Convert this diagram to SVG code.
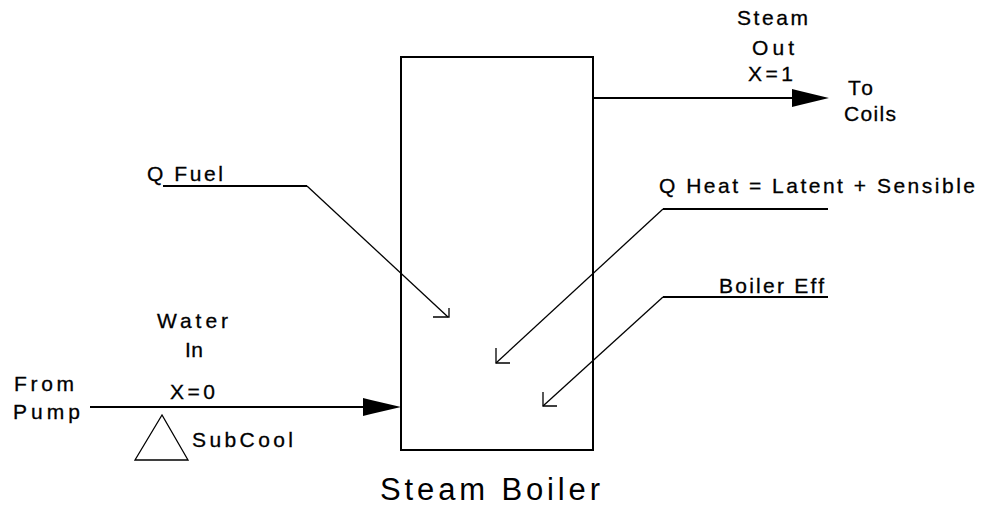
<svg xmlns="http://www.w3.org/2000/svg" width="981" height="508" viewBox="0 0 981 508">
<style>
  .lbl { font-family: "Liberation Sans", Arial, sans-serif; font-size: 21px; fill: #000; stroke: #000; stroke-width: 0.3; }
  .big { font-family: "Liberation Sans", Arial, sans-serif; font-size: 31px; fill: #000; }
  .main { stroke: #000; stroke-width: 2; fill: none; }
  .diag { stroke: #000; stroke-width: 1.3; fill: none; }
  .head { fill: #000; stroke: none; }
</style>
<rect x="0" y="0" width="981" height="508" fill="#fff"/>
<g id="boiler">
  <rect x="401" y="57" width="192" height="393" class="main"/>
  <text class="big" x="380" y="500" textLength="220" lengthAdjust="spacing">Steam Boiler</text>
</g>
<g id="connectors">
  <!-- Water in -->
  <line x1="90" y1="407" x2="366" y2="407" class="main"/>
  <polygon class="head" points="363,398 371,400 401,407 371,414 363,416"/>
  <!-- Steam out -->
  <line x1="593" y1="98" x2="795" y2="98" class="main"/>
  <polygon class="head" points="792,89 800,91 829,98 800,105 792,107"/>
  <!-- Q Fuel -->
  <polyline class="main" points="163,186 307,186"/>
  <line class="diag" x1="307" y1="186" x2="448" y2="317"/>
  <polyline class="diag" points="433,317 449,317 449,308"/>
  <!-- Q Heat -->
  <polyline class="main" points="663,209 828,209"/>
  <line class="diag" x1="663" y1="209" x2="496" y2="363"/>
  <polyline class="diag" points="496,348 496,363 510,363"/>
  <!-- Boiler Eff -->
  <polyline class="main" points="663,297 828,297"/>
  <line class="diag" x1="663" y1="297" x2="543" y2="406"/>
  <polyline class="diag" points="543,392 543,406 557,406"/>
</g>
<g id="subcool">
  <polygon class="diag" points="162,415 135,460 188,460" stroke-width="1.6"/>
  <text class="lbl" x="192" y="447" textLength="101" lengthAdjust="spacing">SubCool</text>
</g>
<g id="label-steam-out">
  <text class="lbl" x="737" y="25" textLength="71" lengthAdjust="spacing">Steam</text>
  <text class="lbl" x="752" y="55" textLength="42" lengthAdjust="spacing">Out</text>
  <text class="lbl" x="748" y="81" textLength="45" lengthAdjust="spacing">X=1</text>
</g>
<g id="label-to-coils">
  <text class="lbl" x="848" y="95" textLength="25" lengthAdjust="spacing">To</text>
  <text class="lbl" x="844" y="121" textLength="52" lengthAdjust="spacing">Coils</text>
</g>
<g id="label-qfuel">
  <text class="lbl" x="147" y="181" textLength="76" lengthAdjust="spacing">Q Fuel</text>
</g>
<g id="label-qheat">
  <text class="lbl" x="659" y="193" textLength="316" lengthAdjust="spacing">Q Heat = Latent + Sensible</text>
</g>
<g id="label-boiler-eff">
  <text class="lbl" x="719" y="293" textLength="105" lengthAdjust="spacing">Boiler Eff</text>
</g>
<g id="label-water-in">
  <text class="lbl" x="157" y="328" textLength="71" lengthAdjust="spacing">Water</text>
  <text class="lbl" x="185" y="357" textLength="18" lengthAdjust="spacing">In</text>
  <text class="lbl" x="170" y="399" textLength="45" lengthAdjust="spacing">X=0</text>
</g>
<g id="label-from-pump">
  <text class="lbl" x="14" y="391" textLength="60" lengthAdjust="spacing">From</text>
  <text class="lbl" x="13" y="419" textLength="67" lengthAdjust="spacing">Pump</text>
</g>
</svg>
